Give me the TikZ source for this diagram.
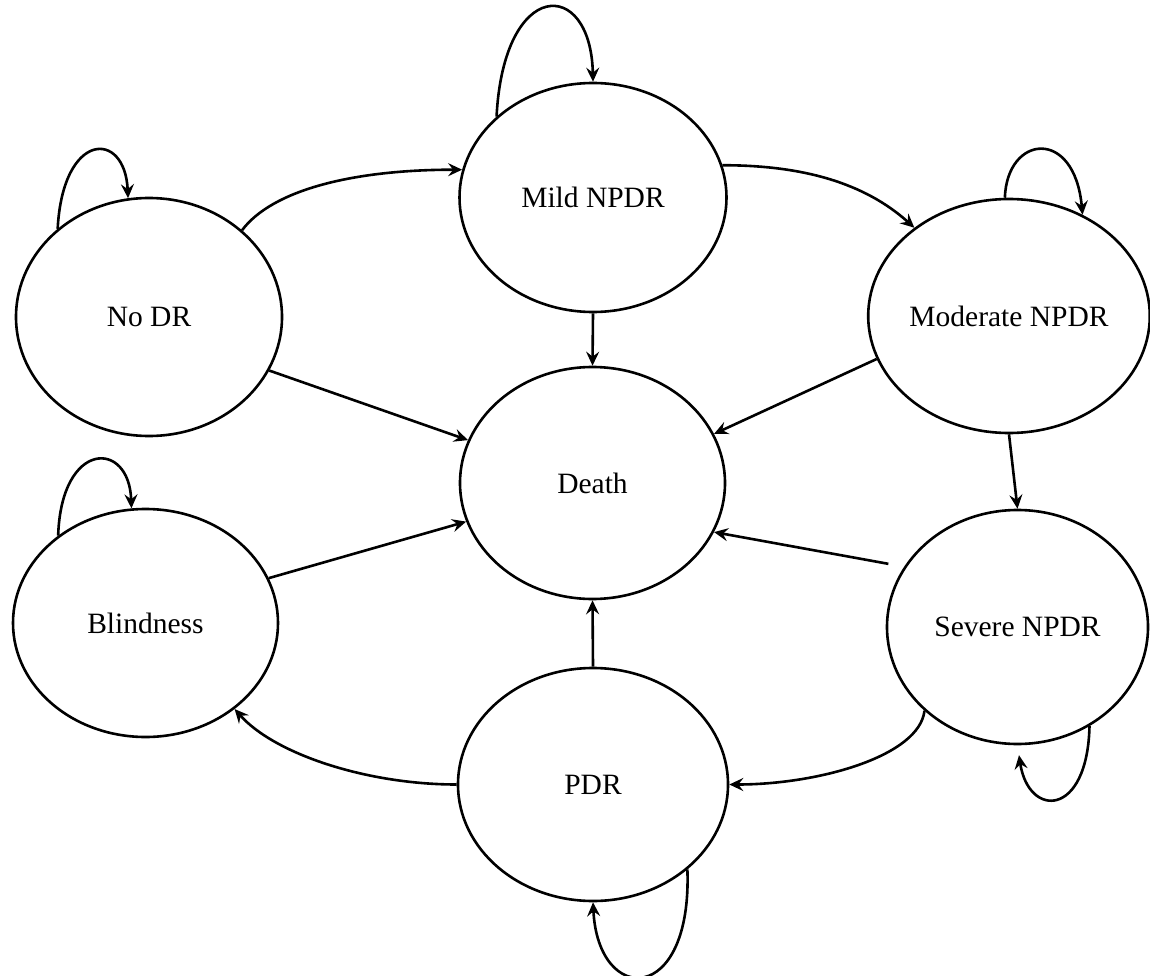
\documentclass[tikz,border=0pt]{standalone}
\usepackage{fontspec}
\setmainfont{Liberation Serif}
\usetikzlibrary{shapes.geometric,arrows.meta}
\begin{document}
\begin{tikzpicture}[x=1pt,y=-1pt,
  state/.style={ellipse,draw,line width=2.6pt,inner sep=0pt,font=\fontsize{29.5}{35}\selectfont},
  arr/.style={line width=2.6pt,-{Stealth[length=14pt,width=13pt,inset=5pt]}}]
\useasboundingbox (0,0) rectangle (1150,976);
\node[state,minimum width=266pt,minimum height=238pt] (nodr) at (149,317) {No DR};
\node[state,minimum width=267pt,minimum height=229pt] (mild) at (593,197.5) {Mild NPDR};
\node[state,minimum width=263pt,minimum height=234pt] (moder) at (1009,316) {Moderate NPDR};
\node[state,minimum width=265pt,minimum height=232pt] (death) at (592.5,483) {Death};
\node[state,minimum width=265pt,minimum height=228pt] (blind) at (145.5,623) {Blindness};
\node[state,minimum width=261pt,minimum height=234pt] (severe) at (1017.5,627) {Severe NPDR};
\node[state,minimum width=270pt,minimum height=233pt] (pdr) at (593,784.5) {PDR};
% self loops
\draw[arr] (nodr.136) .. controls +(5,-98) and +(-3,-69) .. (nodr.100);
\draw[arr] (mild.140) .. controls +(7,-139) and +(-2,-105) .. (mild.90);
\draw[arr] (moder.92) .. controls +(2,-63) and +(-8,-88) .. (moder.54);
\draw[arr] (blind.135) .. controls +(3,-96) and +(-2,-69) .. (blind.97);
\draw[arr,shorten >=10pt] (severe.-54) .. controls +(-2,92) and +(11,73) .. (severe.-90);
\draw[arr] (pdr.-42) .. controls +(5,137) and +(5,104) .. (pdr.-90);
% transitions
\draw[arr] (nodr.43) .. controls +(30,-40) and +(-110,0) .. (mild.168);
\draw[arr] (mild.14) .. controls +(80,0) and +(-50,-45) .. (moder.137);
\draw[arr] (mild.-90) -- (death.90);
\draw[arr] (nodr.-24) -- (death.161);
\draw[arr] (moder.198) -- (death.22);
\draw[arr] (moder.-90) -- (severe.90);
\draw[arr,shorten <=16pt] (severe.152) -- (death.-22);
\draw[arr] (blind.20) -- (death.197);
\draw[arr] (pdr.90) -- (death.-90);
\draw[arr] (severe.-138) .. controls +(-5,45) and +(90,0) .. (pdr.0);
\draw[arr] (pdr.180) .. controls +(-90,0) and +(40,45) .. (blind.-44);
\end{tikzpicture}
\end{document}
